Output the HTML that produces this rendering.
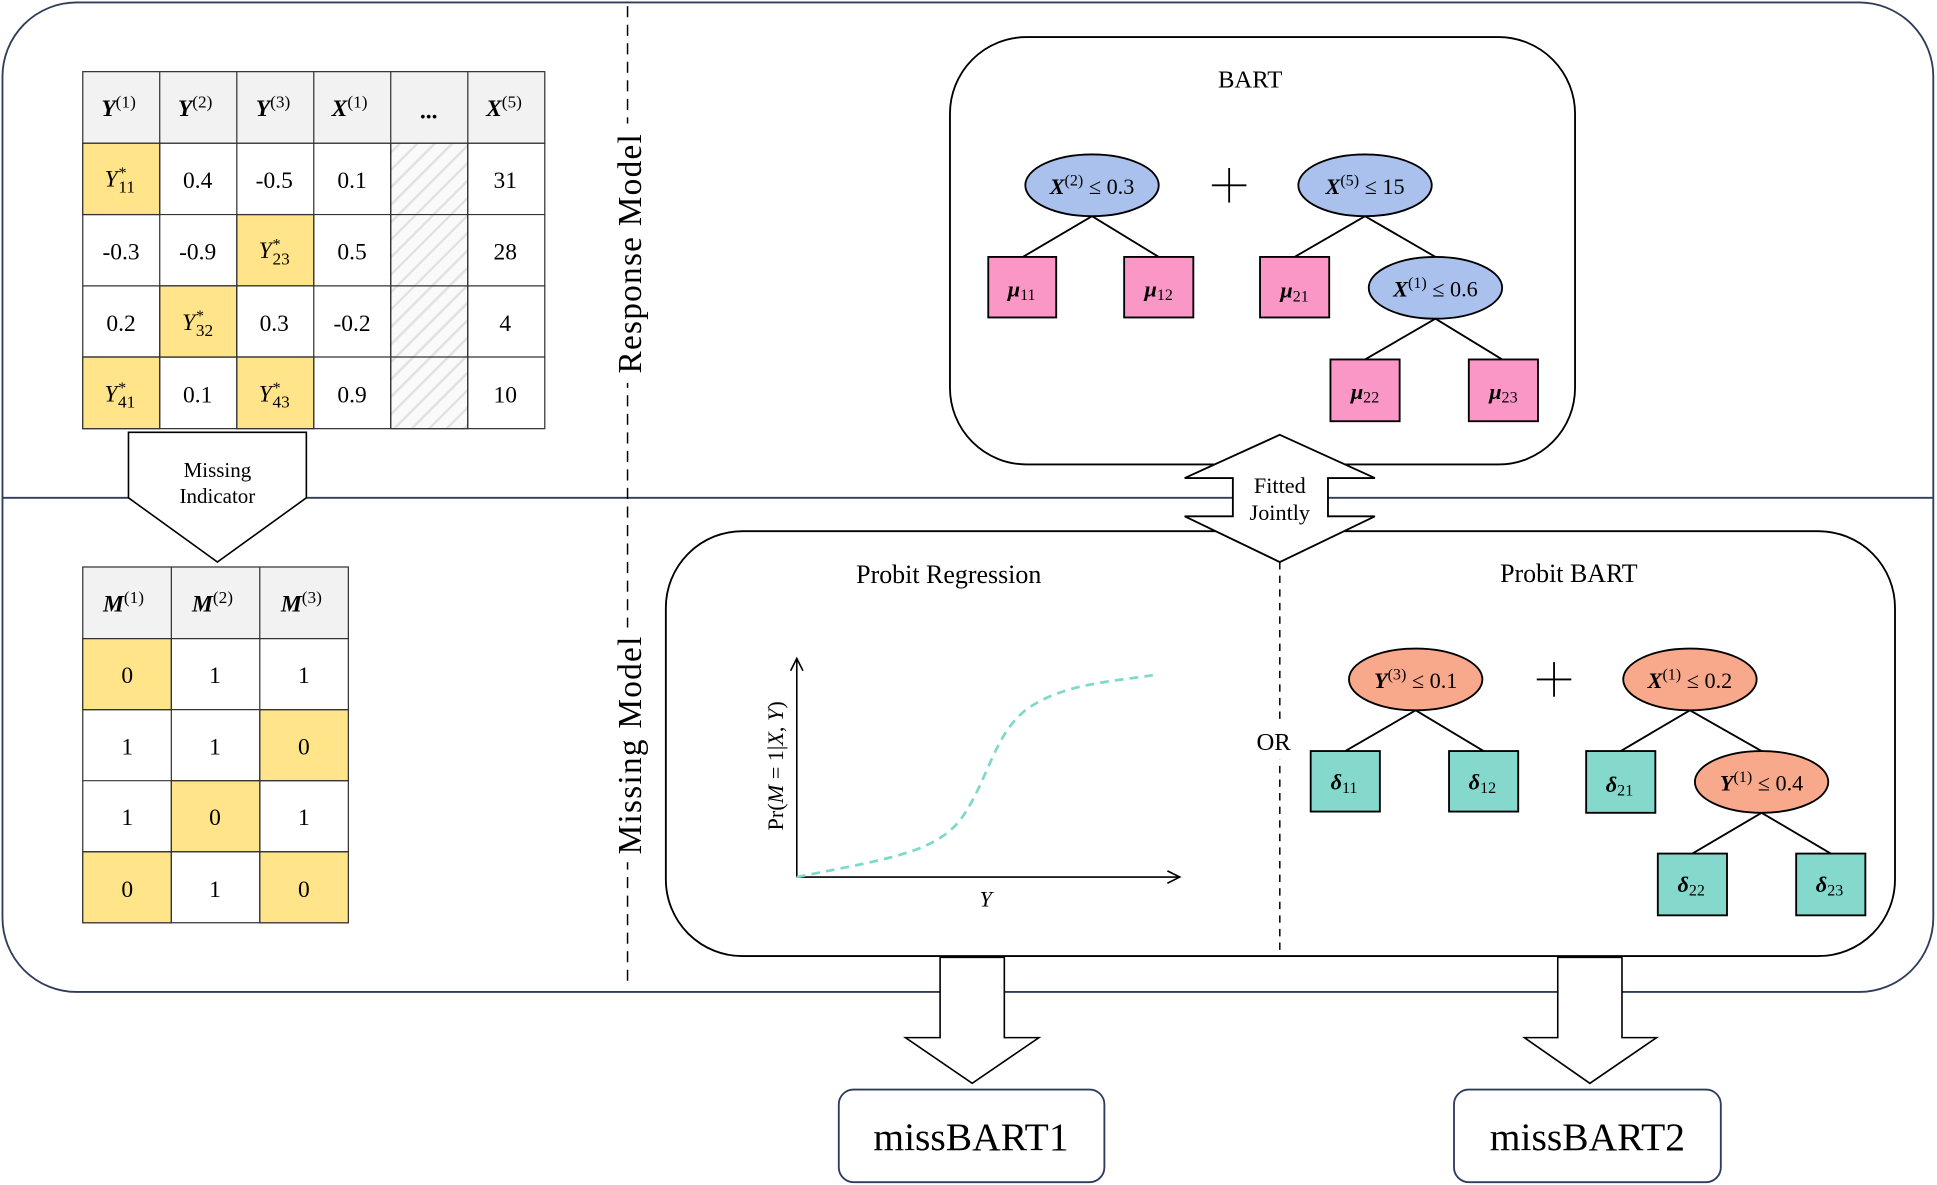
<!DOCTYPE html>
<html><head><meta charset="utf-8"><style>
html,body{margin:0;padding:0;background:#fff;}
svg{display:block;}
text{font-family:"Liberation Serif",serif;}
</style></head><body>
<svg width="1937" height="1185" viewBox="0 0 1568 959.3" preserveAspectRatio="none" xmlns="http://www.w3.org/2000/svg">
<defs>
<pattern id="hatch" width="10" height="10" patternUnits="userSpaceOnUse" patternTransform="rotate(45)">
<rect width="10" height="10" fill="#fafafa"/><line x1="0" y1="0" x2="0" y2="10" stroke="#e2e2e2" stroke-width="4"/>
</pattern>
</defs>
<rect x="2" y="2" width="1563" height="801" rx="60" fill="#fff" stroke="#2f3d5c" stroke-width="1.5"/>
<line x1="2" y1="403" x2="1565" y2="403" stroke="#2f3d5c" stroke-width="1.5"/>
<line x1="508" y1="5" x2="508" y2="800" stroke="#000" stroke-width="1.2" stroke-dasharray="9,6"/>
<rect x="494" y="100" width="30" height="210" fill="#fff"/>
<rect x="494" y="508" width="30" height="190" fill="#fff"/>
<text transform="translate(519,205) rotate(-90)" text-anchor="middle" font-size="27" letter-spacing="1">Response Model</text>
<text transform="translate(519,603) rotate(-90)" text-anchor="middle" font-size="27" letter-spacing="1">Missing Model</text>

<g stroke="#333" stroke-width="1">
<rect x="67" y="58" width="374" height="58" fill="#f2f2f2"/>
<rect x="67" y="116" width="374" height="231" fill="#fff"/>
<rect x="67" y="116" width="62.3" height="57.7" fill="#ffe48a"/>
<rect x="191.7" y="173.7" width="62.3" height="57.7" fill="#ffe48a"/>
<rect x="129.3" y="231.4" width="62.3" height="57.7" fill="#ffe48a"/>
<rect x="67" y="289" width="62.3" height="58" fill="#ffe48a"/>
<rect x="191.7" y="289" width="62.3" height="58" fill="#ffe48a"/>
<rect x="316.3" y="116" width="62.3" height="231" fill="url(#hatch)"/>
<line x1="129.3" y1="58" x2="129.3" y2="347"/><line x1="191.7" y1="58" x2="191.7" y2="347"/>
<line x1="254" y1="58" x2="254" y2="347"/><line x1="316.3" y1="58" x2="316.3" y2="347"/>
<line x1="378.7" y1="58" x2="378.7" y2="347"/>
<line x1="67" y1="173.7" x2="441" y2="173.7"/><line x1="67" y1="231.4" x2="441" y2="231.4"/>
<line x1="67" y1="289" x2="441" y2="289"/>
</g>
<g font-size="19" text-anchor="middle">
<text x="96" y="94" font-weight="bold" font-style="italic">Y<tspan font-weight="normal" font-style="normal" font-size="14" dy="-7">(1)</tspan></text>
<text x="158" y="94" font-weight="bold" font-style="italic">Y<tspan font-weight="normal" font-style="normal" font-size="14" dy="-7">(2)</tspan></text>
<text x="221" y="94" font-weight="bold" font-style="italic">Y<tspan font-weight="normal" font-style="normal" font-size="14" dy="-7">(3)</tspan></text>
<text x="283" y="94" font-weight="bold" font-style="italic">X<tspan font-weight="normal" font-style="normal" font-size="14" dy="-7">(1)</tspan></text>
<text x="347" y="96" font-weight="bold">...</text>
<text x="408" y="94" font-weight="bold" font-style="italic">X<tspan font-weight="normal" font-style="normal" font-size="14" dy="-7">(5)</tspan></text>
<text x="97" y="151" font-style="italic">Y<tspan font-size="13" dy="-7">*</tspan><tspan font-size="14" dx="-6" dy="12" font-style="normal">11</tspan></text>
<text x="160" y="152">0.4</text><text x="222" y="152">-0.5</text><text x="285" y="152">0.1</text><text x="409" y="152">31</text>
<text x="98" y="210">-0.3</text><text x="160" y="210">-0.9</text>
<text x="222" y="209" font-style="italic">Y<tspan font-size="13" dy="-7">*</tspan><tspan font-size="14" dx="-6" dy="12" font-style="normal">23</tspan></text>
<text x="285" y="210">0.5</text><text x="409" y="210">28</text>
<text x="98" y="268">0.2</text>
<text x="160" y="267" font-style="italic">Y<tspan font-size="13" dy="-7">*</tspan><tspan font-size="14" dx="-6" dy="12" font-style="normal">32</tspan></text>
<text x="222" y="268">0.3</text><text x="285" y="268">-0.2</text><text x="409" y="268">4</text>
<text x="97" y="325" font-style="italic">Y<tspan font-size="13" dy="-7">*</tspan><tspan font-size="14" dx="-6" dy="12" font-style="normal">41</tspan></text>
<text x="160" y="326">0.1</text>
<text x="222" y="325" font-style="italic">Y<tspan font-size="13" dy="-7">*</tspan><tspan font-size="14" dx="-6" dy="12" font-style="normal">43</tspan></text>
<text x="285" y="326">0.9</text><text x="409" y="326">10</text>
</g>

<polygon points="104,350 248,350 248,403 176,455 104,403" fill="#fff" stroke="#000" stroke-width="1.3"/>
<text x="176" y="386" font-size="17" text-anchor="middle">Missing</text>
<text x="176" y="407" font-size="17" text-anchor="middle">Indicator</text>

<g stroke="#333" stroke-width="1">
<rect x="67" y="459" width="215" height="58" fill="#f2f2f2"/>
<rect x="67" y="517" width="215" height="230" fill="#fff"/>
<rect x="67" y="517" width="71.7" height="57.5" fill="#ffe48a"/>
<rect x="210.3" y="574.5" width="71.7" height="57.5" fill="#ffe48a"/>
<rect x="138.7" y="632" width="71.7" height="57.5" fill="#ffe48a"/>
<rect x="67" y="689.5" width="71.7" height="57.5" fill="#ffe48a"/>
<rect x="210.3" y="689.5" width="71.7" height="57.5" fill="#ffe48a"/>
<line x1="138.7" y1="459" x2="138.7" y2="747"/><line x1="210.3" y1="459" x2="210.3" y2="747"/>
<line x1="67" y1="574.5" x2="282" y2="574.5"/><line x1="67" y1="632" x2="282" y2="632"/><line x1="67" y1="689.5" x2="282" y2="689.5"/>
</g>
<g font-size="19" text-anchor="middle">
<text x="100" y="495" font-weight="bold" font-style="italic">M<tspan font-weight="normal" font-style="normal" font-size="14" dy="-7">(1)</tspan></text>
<text x="172" y="495" font-weight="bold" font-style="italic">M<tspan font-weight="normal" font-style="normal" font-size="14" dy="-7">(2)</tspan></text>
<text x="244" y="495" font-weight="bold" font-style="italic">M<tspan font-weight="normal" font-style="normal" font-size="14" dy="-7">(3)</tspan></text>
<text x="103" y="553">0</text><text x="174" y="553">1</text><text x="246" y="553">1</text>
<text x="103" y="611">1</text><text x="174" y="611">1</text><text x="246" y="611">0</text>
<text x="103" y="668">1</text><text x="174" y="668">0</text><text x="246" y="668">1</text>
<text x="103" y="726">0</text><text x="174" y="726">1</text><text x="246" y="726">0</text>
</g>

<rect x="769" y="30" width="506" height="346" rx="62" fill="#fff" stroke="#000" stroke-width="1.5"/>
<text x="1012" y="71" font-size="20" text-anchor="middle">BART</text>
<g stroke="#000" stroke-width="1.5">
<line x1="884" y1="175" x2="828" y2="208"/><line x1="884" y1="175" x2="938" y2="208"/>
<line x1="1105" y1="175" x2="1048" y2="208"/><line x1="1105" y1="175" x2="1162" y2="208"/>
<line x1="1162" y1="258" x2="1105" y2="291"/><line x1="1162" y1="258" x2="1216" y2="291"/>
<line x1="995" y1="136" x2="995" y2="164"/><line x1="981" y1="150" x2="1009" y2="150"/>
</g>
<g fill="#a9c1ec" stroke="#000" stroke-width="1.5">
<ellipse cx="884" cy="150" rx="54" ry="25"/><ellipse cx="1105" cy="150" rx="54" ry="25"/><ellipse cx="1162" cy="233" rx="54" ry="25"/>
</g>
<g fill="#fb97c7" stroke="#000" stroke-width="1.5">
<rect x="800" y="208" width="55" height="49"/><rect x="910" y="208" width="56" height="49"/>
<rect x="1020" y="208" width="56" height="49"/><rect x="1077" y="291" width="56" height="50"/><rect x="1189" y="291" width="56" height="50"/>
</g>
<g font-size="18" text-anchor="middle">
<text x="884" y="157"><tspan font-weight="bold" font-style="italic">X</tspan><tspan font-size="13" dy="-7">(2)</tspan><tspan dy="7"> ≤ 0.3</tspan></text>
<text x="1105" y="157"><tspan font-weight="bold" font-style="italic">X</tspan><tspan font-size="13" dy="-7">(5)</tspan><tspan dy="7"> ≤ 15</tspan></text>
<text x="1162" y="240"><tspan font-weight="bold" font-style="italic">X</tspan><tspan font-size="13" dy="-7">(1)</tspan><tspan dy="7"> ≤ 0.6</tspan></text>
<text x="827" y="240"><tspan font-weight="bold" font-style="italic">μ</tspan><tspan font-size="13" dy="3">11</tspan></text>
<text x="938" y="240"><tspan font-weight="bold" font-style="italic">μ</tspan><tspan font-size="13" dy="3">12</tspan></text>
<text x="1048" y="241"><tspan font-weight="bold" font-style="italic">μ</tspan><tspan font-size="13" dy="3">21</tspan></text>
<text x="1105" y="323"><tspan font-weight="bold" font-style="italic">μ</tspan><tspan font-size="13" dy="3">22</tspan></text>
<text x="1217" y="323"><tspan font-weight="bold" font-style="italic">μ</tspan><tspan font-size="13" dy="3">23</tspan></text>
</g>

<rect x="539" y="430" width="995" height="344" rx="62" fill="#fff" stroke="#000" stroke-width="1.5"/>
<line x1="1036" y1="455" x2="1036" y2="774" stroke="#000" stroke-width="1.2" stroke-dasharray="6,5"/>
<rect x="1015" y="585" width="40" height="30" fill="#fff"/>
<text x="1031" y="607" font-size="20" text-anchor="middle">OR</text>
<text x="768" y="472" font-size="21" text-anchor="middle">Probit Regression</text>
<text x="1270" y="471" font-size="21" text-anchor="middle">Probit BART</text>
<g stroke="#000" stroke-width="1.3" fill="none">
<line x1="645" y1="710" x2="645" y2="534"/><polyline points="640,543 645,533 650,543"/>
<line x1="645" y1="710" x2="954" y2="710"/><polyline points="945,705 955,710 945,715"/>
</g>
<path d="M645,710 C720,695 760,690 780,660 C800,630 805,595 830,575 C860,553 900,552 937,546" fill="none" stroke="#7fd8c9" stroke-width="2.2" stroke-dasharray="7,5"/>
<text transform="translate(634,620) rotate(-90)" font-size="18" text-anchor="middle">Pr(<tspan font-style="italic">M</tspan> = 1|<tspan font-style="italic">X</tspan>, <tspan font-style="italic">Y</tspan>)</text>
<text x="798" y="734" font-size="18" font-style="italic" text-anchor="middle">Y</text>

<g stroke="#000" stroke-width="1.5">
<line x1="1146" y1="575" x2="1089" y2="608"/><line x1="1146" y1="575" x2="1201" y2="608"/>
<line x1="1368" y1="575" x2="1312" y2="608"/><line x1="1368" y1="575" x2="1426" y2="608"/>
<line x1="1426" y1="658" x2="1370" y2="691"/><line x1="1426" y1="658" x2="1482" y2="691"/>
<line x1="1258" y1="536" x2="1258" y2="564"/><line x1="1244" y1="550" x2="1272" y2="550"/>
</g>
<g fill="#f8a98b" stroke="#000" stroke-width="1.5">
<ellipse cx="1146" cy="550" rx="54" ry="25"/><ellipse cx="1368" cy="550" rx="54" ry="25"/><ellipse cx="1426" cy="633" rx="54" ry="25"/>
</g>
<g fill="#85d8cc" stroke="#000" stroke-width="1.5">
<rect x="1061" y="608" width="56" height="49"/><rect x="1173" y="608" width="56" height="49"/>
<rect x="1284" y="608" width="56" height="50"/><rect x="1342" y="691" width="56" height="50"/><rect x="1454" y="691" width="56" height="50"/>
</g>
<g font-size="18" text-anchor="middle">
<text x="1146" y="557"><tspan font-weight="bold" font-style="italic">Y</tspan><tspan font-size="13" dy="-7">(3)</tspan><tspan dy="7"> ≤ 0.1</tspan></text>
<text x="1368" y="557"><tspan font-weight="bold" font-style="italic">X</tspan><tspan font-size="13" dy="-7">(1)</tspan><tspan dy="7"> ≤ 0.2</tspan></text>
<text x="1426" y="640"><tspan font-weight="bold" font-style="italic">Y</tspan><tspan font-size="13" dy="-7">(1)</tspan><tspan dy="7"> ≤ 0.4</tspan></text>
<text x="1088" y="639"><tspan font-weight="bold" font-style="italic">δ</tspan><tspan font-size="13" dy="3">11</tspan></text>
<text x="1200" y="639"><tspan font-weight="bold" font-style="italic">δ</tspan><tspan font-size="13" dy="3">12</tspan></text>
<text x="1311" y="641"><tspan font-weight="bold" font-style="italic">δ</tspan><tspan font-size="13" dy="3">21</tspan></text>
<text x="1369" y="722"><tspan font-weight="bold" font-style="italic">δ</tspan><tspan font-size="13" dy="3">22</tspan></text>
<text x="1481" y="722"><tspan font-weight="bold" font-style="italic">δ</tspan><tspan font-size="13" dy="3">23</tspan></text>
</g>

<polygon points="1036,352 1113,387 1075,387 1075,418 1113,418 1036,455 959,418 998,418 998,387 959,387" fill="#fff" stroke="#000" stroke-width="1.5"/>
<text x="1036" y="399" font-size="18" text-anchor="middle">Fitted</text>
<text x="1036" y="421" font-size="18" text-anchor="middle">Jointly</text>

<polygon points="761,775 813,775 813,840 841,840 787,877 733,840 761,840" fill="#fff" stroke="#000" stroke-width="1.3"/>
<polygon points="1261,775 1313,775 1313,840 1341,840 1287,877 1234,840 1261,840" fill="#fff" stroke="#000" stroke-width="1.3"/>
<rect x="679" y="882" width="215" height="75" rx="12" fill="#fff" stroke="#2f3d5c" stroke-width="1.5"/>
<rect x="1177" y="882" width="216" height="75" rx="12" fill="#fff" stroke="#2f3d5c" stroke-width="1.5"/>
<text x="786" y="931" font-size="32" text-anchor="middle">missBART1</text>
<text x="1285" y="931" font-size="32" text-anchor="middle">missBART2</text>
</svg>
</body></html>
